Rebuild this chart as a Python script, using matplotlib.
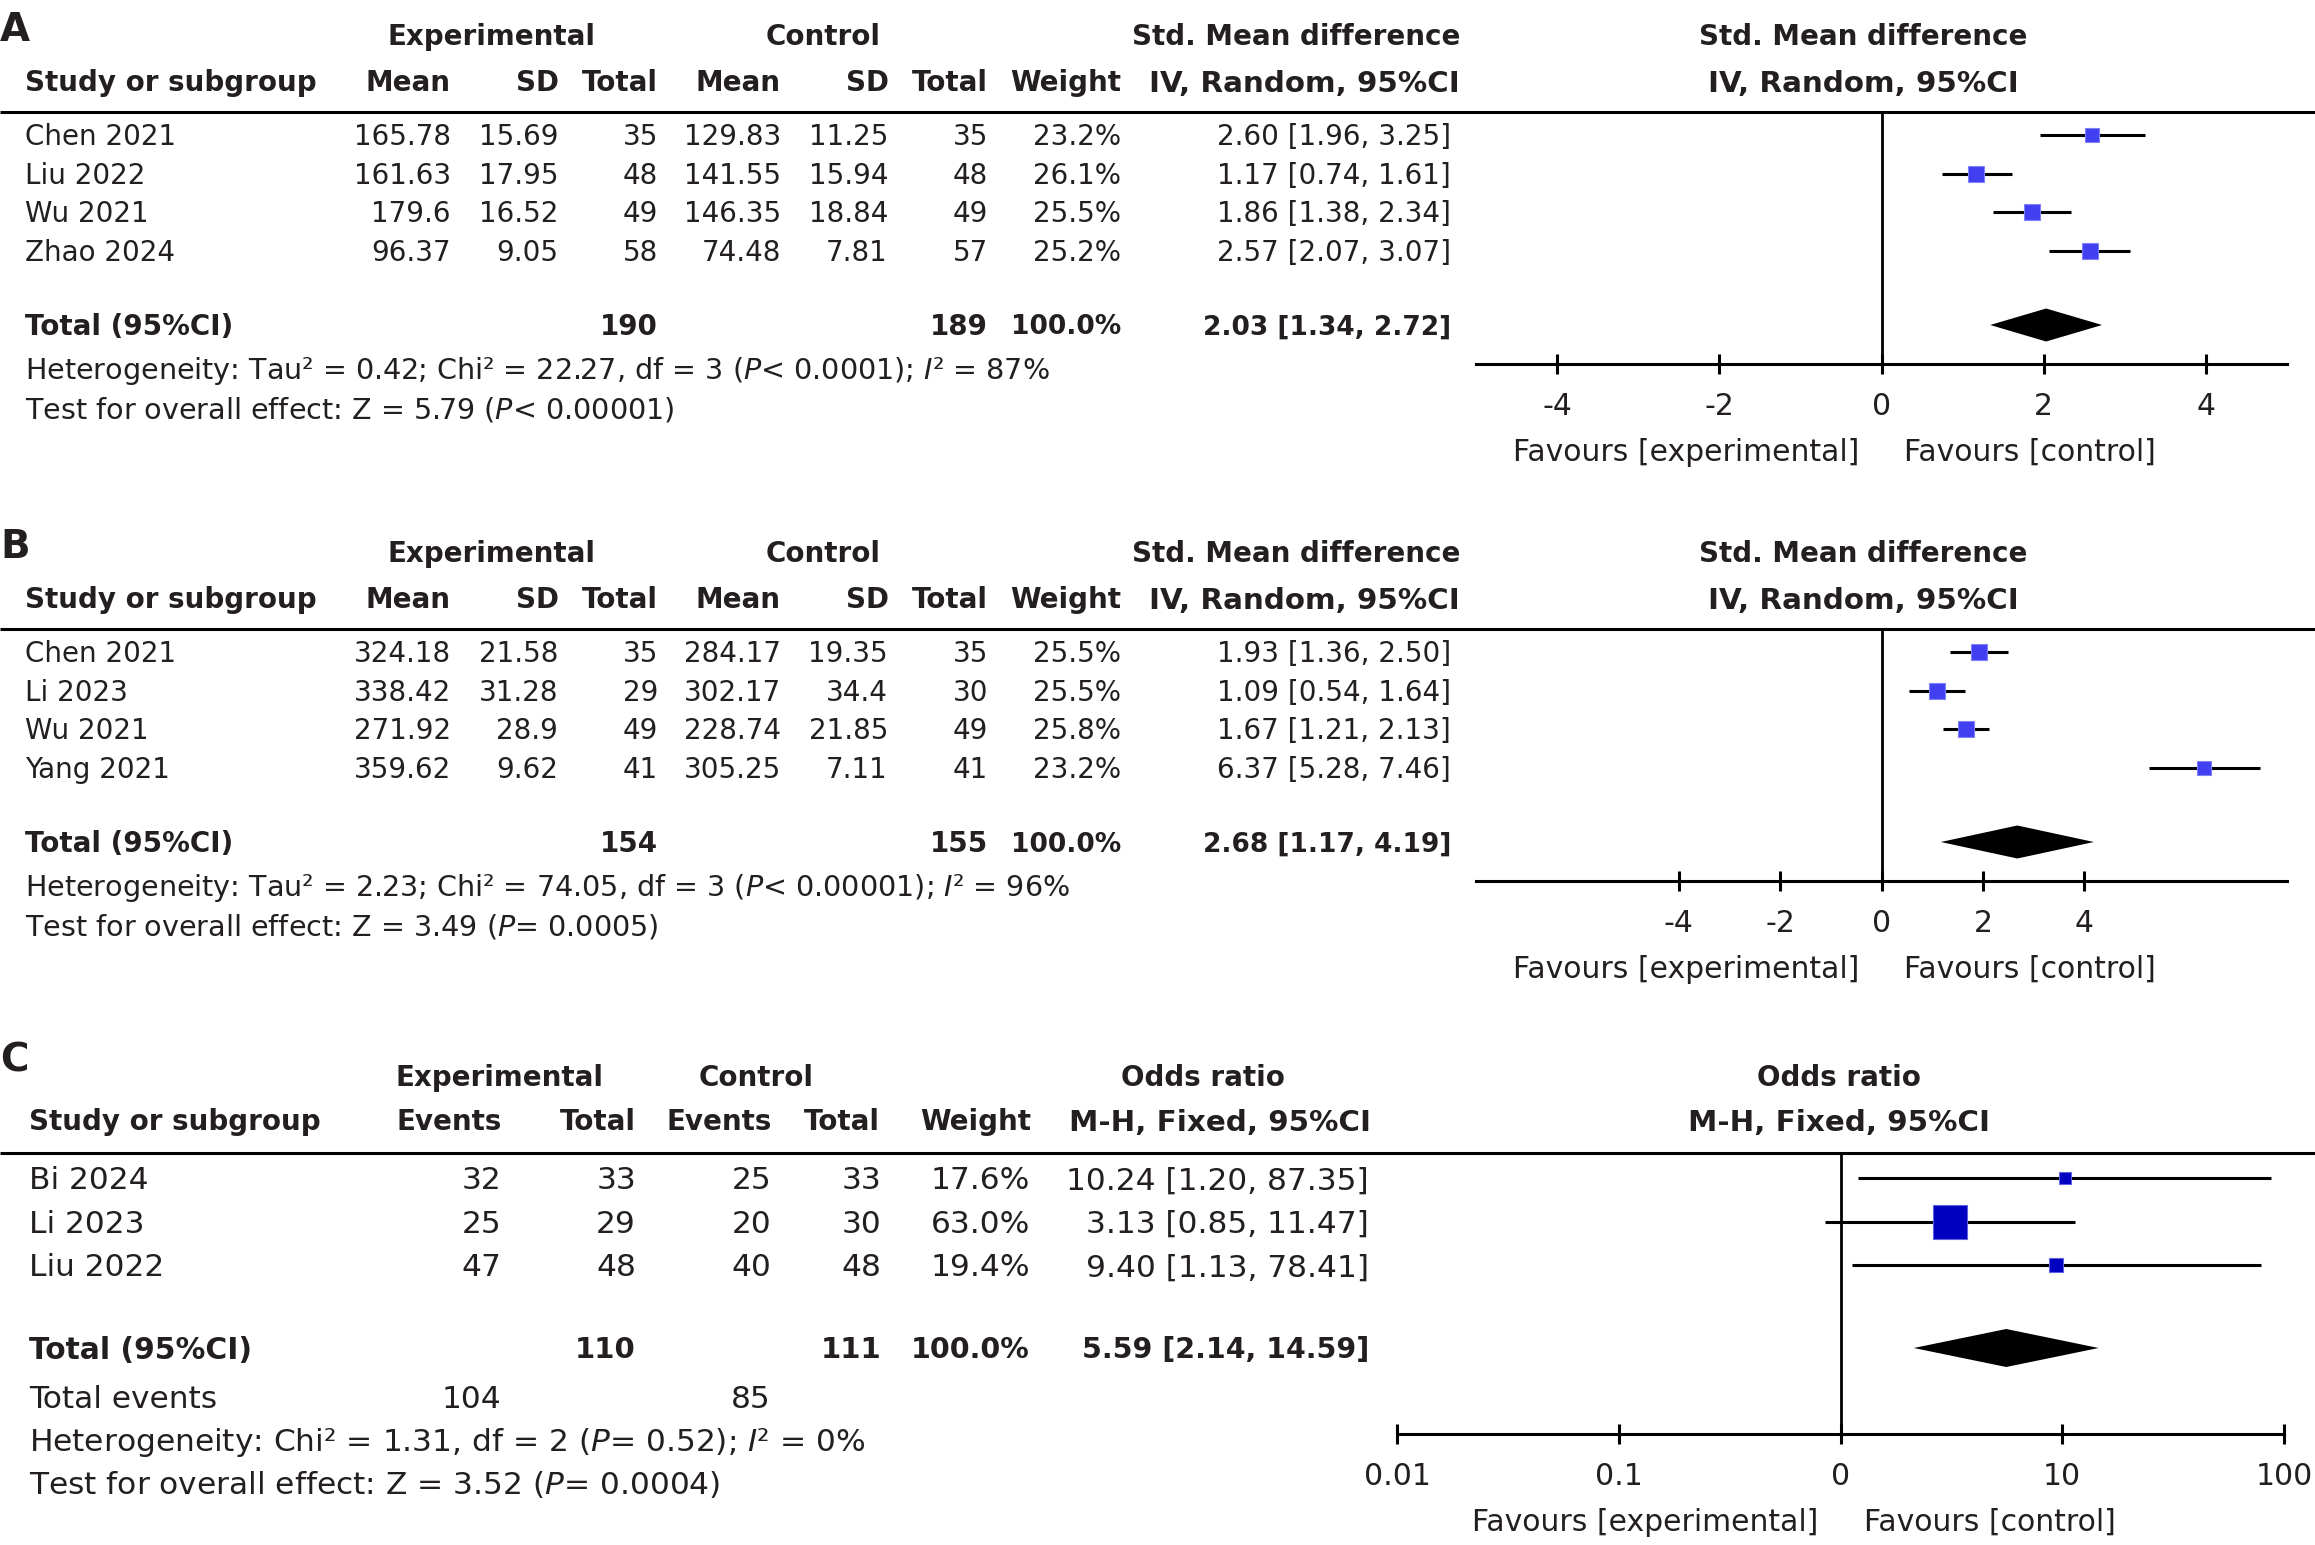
import numpy as np
import matplotlib
matplotlib.use("Agg")
import matplotlib.pyplot as plt
from matplotlib.ticker import NullLocator

plt.rcParams['font.family'] = ['DejaVu Sans']
plt.rcParams['mathtext.fontset'] = 'dejavusans'

# ---------------- data: panel A ----------------
studies_a = ["Chen 2021", "Liu 2022", "Wu 2021", "Zhao 2024"]
exp_mean_a = [165.78, 161.63, 179.6, 96.37]
exp_sd_a = [15.69, 17.95, 16.52, 9.05]
exp_n_a = [35, 48, 49, 58]
ctl_mean_a = [129.83, 141.55, 146.35, 74.48]
ctl_sd_a = [11.25, 15.94, 18.84, 7.81]
ctl_n_a = [35, 48, 49, 57]
weight_a = [23.2, 26.1, 25.5, 25.2]
smd_a = [2.60, 1.17, 1.86, 2.57]
lo_a = [1.96, 0.74, 1.38, 2.07]
hi_a = [3.25, 1.61, 2.34, 3.07]
total_a = [2.03, 1.34, 2.72]
total_n_a = [190, 189]
het_a = "Heterogeneity: Tau² = 0.42; Chi² = 22.27, df = 3 ($\\mathit{P}$< 0.0001); $\\mathit{I}$² = 87%"
test_a = "Test for overall effect: Z = 5.79 ($\\mathit{P}$< 0.00001)"
ticks_a = [-4, -2, 0, 2, 4]

# ---------------- data: panel B ----------------
studies_b = ["Chen 2021", "Li 2023", "Wu 2021", "Yang 2021"]
exp_mean_b = [324.18, 338.42, 271.92, 359.62]
exp_sd_b = [21.58, 31.28, 28.9, 9.62]
exp_n_b = [35, 29, 49, 41]
ctl_mean_b = [284.17, 302.17, 228.74, 305.25]
ctl_sd_b = [19.35, 34.4, 21.85, 7.11]
ctl_n_b = [35, 30, 49, 41]
weight_b = [25.5, 25.5, 25.8, 23.2]
smd_b = [1.93, 1.09, 1.67, 6.37]
lo_b = [1.36, 0.54, 1.21, 5.28]
hi_b = [2.50, 1.64, 2.13, 7.46]
total_b = [2.68, 1.17, 4.19]
total_n_b = [154, 155]
het_b = "Heterogeneity: Tau² = 2.23; Chi² = 74.05, df = 3 ($\\mathit{P}$< 0.00001); $\\mathit{I}$² = 96%"
test_b = "Test for overall effect: Z = 3.49 ($\\mathit{P}$= 0.0005)"
ticks_b = [-4, -2, 0, 2, 4]

# ---------------- data: panel C ----------------
studies_c = ["Bi 2024", "Li 2023", "Liu 2022"]
exp_ev_c = [32, 25, 47]
exp_n_c = [33, 29, 48]
ctl_ev_c = [25, 20, 40]
ctl_n_c = [33, 30, 48]
weight_c = [17.6, 63.0, 19.4]
or_c = [10.24, 3.13, 9.40]
lo_c = [1.20, 0.85, 1.13]
hi_c = [87.35, 11.47, 78.41]
total_c = [5.59, 2.14, 14.59]
total_n_c = [110, 111]
total_events_c = [104, 85]
het_c = "Heterogeneity: Chi² = 1.31, df = 2 ($\\mathit{P}$= 0.52); $\\mathit{I}$² = 0%"
test_c = "Test for overall effect: Z = 3.52 ($\\mathit{P}$= 0.0004)"
ticks_c = [0.01, 0.1, 1, 10, 100]
ticklabels_c = ["0.01", "0.1", "0", "10", "100"]

# ---------------- layout ----------------
W, H = 2315, 1545
DPI = 100
FS = 20
FS_SENT = 20.6
FS_AX = 21.5
FS_NUMB = 19.0
FS_C = 22.5
TXT = '#231f20'
LW = 2.2

fig = plt.figure(figsize=(W / DPI, H / DPI), dpi=DPI)
fig.patch.set_facecolor('white')
base = fig.add_axes([0, 0, 1, 1])
base.set_xlim(0, W)
base.set_ylim(H, 0)
base.axis('off')


def t(x, y, s, ha='left', bold=False, size=FS):
    # y is the visual centre of capitals; baseline sits ~0.36 em lower
    cap = 0.36 * size * DPI / 72
    base.text(x, y + cap, s, ha=ha, va='baseline', fontsize=size,
              fontweight='bold' if bold else 'normal', color=TXT)


def px2fig(l, top, r, bot):
    return [l / W, 1 - bot / H, (r - l) / W, (bot - top) / H]


def fmt(v):
    return f"{v:g}"


def ci(e, l, h):
    return f"{e:.2f} [{l:.2f}, {h:.2f}]"


def forest(rect, xlim, log, ticks, ticklabels, rows_y, est, lo, hi, wts,
           color, edge, tot_y, tot, dia_h, null):
    l, top, r, bot = rect
    ax = fig.add_axes(px2fig(l, top, r, bot))
    if log:
        ax.set_xscale('log')
    ax.set_xlim(*xlim)
    ax.set_ylim(bot, top)
    ax.patch.set_visible(False)
    for s in ['top', 'left', 'right']:
        ax.spines[s].set_visible(False)
    ax.spines['bottom'].set_linewidth(LW)
    ax.set_yticks([])
    ax.set_xticks(ticks)
    ax.set_xticklabels(ticklabels)
    ax.xaxis.set_minor_locator(NullLocator())
    ax.tick_params(axis='x', direction='inout', length=14, width=LW, pad=13.5,
                   labelsize=FS_AX, labelcolor=TXT)
    ax.axvline(null, color='black', lw=2.0, zorder=1)
    ax.hlines(rows_y, lo, hi, color='black', lw=LW, zorder=2)
    for y, e, w in zip(rows_y, est, wts):
        side = 4 + 0.47 * w
        ax.plot([e], [y], marker='s', ms=side * 72 / DPI, color=color,
                mec=edge, mew=0.8, ls='none', zorder=3)
    ax.fill([tot[1], tot[0], tot[2], tot[0]],
            [tot_y, tot_y - dia_h / 2, tot_y, tot_y + dia_h / 2],
            color='black', lw=0, zorder=3)
    ax.annotate('Favours [experimental]', xy=(null, 0),
                xycoords=('data', 'axes fraction'), xytext=(-22, -97),
                textcoords='offset pixels', ha='right', va='baseline',
                fontsize=FS_AX, color=TXT)
    ax.annotate('Favours [control]', xy=(null, 0),
                xycoords=('data', 'axes fraction'), xytext=(23, -97),
                textcoords='offset pixels', ha='left', va='baseline',
                fontsize=FS_AX, color=TXT)
    return ax


def smd_panel(letter, y0, studies, em, esd, en, cm, csd, cn, wt, est, lo, hi,
              tot, tot_n, het, test, xlim, ticks):
    h1 = y0
    h2 = y0 + 46
    line_y = y0 + 77
    rows = [y0 + 100 + 38.7 * i for i in range(len(studies))]
    tot_y = y0 + 290
    het_y = y0 + 334
    test_y = y0 + 373
    axis_y = y0 + 329
    t(0, y0 - 8, letter, bold=True, size=28)
    t(492, h1, 'Experimental', ha='center', bold=True)
    t(823, h1, 'Control', ha='center', bold=True)
    t(1460, h1, 'Std. Mean difference', ha='right', bold=True)
    t(1863, h1, 'Std. Mean difference', ha='center', bold=True)
    t(25, h2, 'Study or subgroup', bold=True)
    for x, s in [(451, 'Mean'), (559, 'SD'), (658, 'Total'), (781, 'Mean'),
                 (889, 'SD'), (988, 'Total'), (1121, 'Weight')]:
        t(x, h2, s, ha='right', bold=True)
    t(1460, h2, 'IV, Random, 95%CI', ha='right', bold=True, size=21.2)
    t(1863, h2, 'IV, Random, 95%CI', ha='center', bold=True, size=21.2)
    base.plot([0, W], [line_y, line_y], color='black', lw=LW,
              solid_capstyle='butt')
    for i, y in enumerate(rows):
        t(25, y, studies[i])
        t(451, y, fmt(em[i]), ha='right')
        t(558, y, fmt(esd[i]), ha='right')
        t(658, y, str(en[i]), ha='right')
        t(781, y, fmt(cm[i]), ha='right')
        t(888, y, fmt(csd[i]), ha='right')
        t(988, y, str(cn[i]), ha='right')
        t(1121, y, f"{wt[i]:.1f}%", ha='right')
        t(1451, y, ci(est[i], lo[i], hi[i]), ha='right')
    t(25, tot_y, 'Total (95%CI)', bold=True)
    t(658, tot_y, str(tot_n[0]), ha='right', bold=True)
    t(988, tot_y, str(tot_n[1]), ha='right', bold=True)
    t(1121, tot_y, '100.0%', ha='right', bold=True, size=FS_NUMB)
    t(1451, tot_y, ci(*tot), ha='right', bold=True, size=FS_NUMB)
    t(25, het_y, het, size=FS_SENT)
    t(25, test_y, test, size=FS_SENT)
    forest((1476, line_y, 2287, axis_y), xlim, False, ticks,
           [str(v) for v in ticks], rows, est, lo, hi, wt,
           '#4040f0', '#8080f8', tot_y, tot, 33, 0)


smd_panel('A', 35, studies_a, exp_mean_a, exp_sd_a, exp_n_a, ctl_mean_a,
          ctl_sd_a, ctl_n_a, weight_a, smd_a, lo_a, hi_a, total_a, total_n_a,
          het_a, test_a, (-5, 5), ticks_a)
smd_panel('B', 552, studies_b, exp_mean_b, exp_sd_b, exp_n_b, ctl_mean_b,
          ctl_sd_b, ctl_n_b, weight_b, smd_b, lo_b, hi_b, total_b, total_n_b,
          het_b, test_b, (-8, 8), ticks_b)

# ---------------- panel C ----------------
y0 = 1076
t(0, 1058, 'C', bold=True, size=28)
t(500, y0, 'Experimental', ha='center', bold=True)
t(756, y0, 'Control', ha='center', bold=True)
t(1203, y0, 'Odds ratio', ha='center', bold=True)
t(1839, y0, 'Odds ratio', ha='center', bold=True)
h2 = 1120
t(29, h2, 'Study or subgroup', bold=True)
for x, s in [(502, 'Events'), (636, 'Total'), (772, 'Events'), (880, 'Total'),
             (1031, 'Weight')]:
    t(x, h2, s, ha='right', bold=True)
t(1371, h2, 'M-H, Fixed, 95%CI', ha='right', bold=True, size=21.2)
t(1839, h2, 'M-H, Fixed, 95%CI', ha='center', bold=True, size=21.2)
line_c = 1153
base.plot([0, W], [line_c, line_c], color='black', lw=LW, solid_capstyle='butt')
rows_c = [1178 + 43.5 * i for i in range(len(studies_c))]
for i, y in enumerate(rows_c):
    t(29, y, studies_c[i], size=FS_C)
    t(501, y, str(exp_ev_c[i]), ha='right', size=FS_C)
    t(636, y, str(exp_n_c[i]), ha='right', size=FS_C)
    t(771, y, str(ctl_ev_c[i]), ha='right', size=FS_C)
    t(881, y, str(ctl_n_c[i]), ha='right', size=FS_C)
    t(1030, y, f"{weight_c[i]:.1f}%", ha='right', size=FS_C)
    t(1369, y, ci(or_c[i], lo_c[i], hi_c[i]), ha='right', size=FS_C)
tot_y_c = 1348
t(29, tot_y_c, 'Total (95%CI)', bold=True, size=21.4)
t(636, tot_y_c, str(total_n_c[0]), ha='right', bold=True, size=21)
t(881, tot_y_c, str(total_n_c[1]), ha='right', bold=True, size=21)
t(1030, tot_y_c, '100.0%', ha='right', bold=True, size=20.5)
t(1369, tot_y_c, ci(*total_c), ha='right', bold=True, size=20.5)
t(29, 1397, 'Total events', size=FS_C)
t(501, 1397, str(total_events_c[0]), ha='right', size=FS_C)
t(771, 1397, str(total_events_c[1]), ha='right', size=FS_C)
t(29, 1440, het_c, size=FS_C)
t(29, 1483, test_c, size=FS_C)
forest((1397, line_c, 2284, 1434), (0.01, 100), True, ticks_c, ticklabels_c,
       rows_c, or_c, lo_c, hi_c, weight_c, '#0000c0', '#6060e0', tot_y_c,
       total_c, 38, 1)

fig.savefig('out.png', dpi=DPI, facecolor='white')
